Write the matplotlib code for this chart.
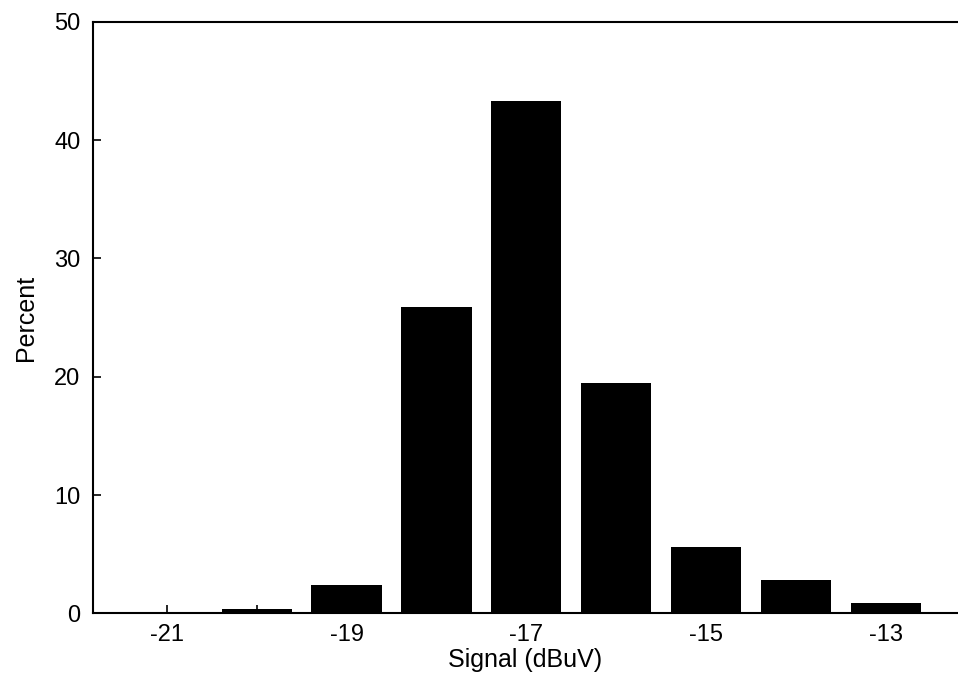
import matplotlib
matplotlib.use("Agg")
import matplotlib.pyplot as plt

# значения гистограммы
signal = [-21, -20, -19, -18, -17, -16, -15, -14, -13]
percent = [0.1, 0.4, 2.4, 25.9, 43.3, 19.5, 5.6, 2.8, 0.85]
xtick_vals = [-21, -19, -17, -15, -13]
ytick_vals = [0, 10, 20, 30, 40, 50]

plt.rcParams['font.family'] = ['Liberation Sans', 'DejaVu Sans']
plt.rcParams['font.size'] = 17
plt.rcParams['axes.unicode_minus'] = False

fig = plt.figure(figsize=(9.58, 6.86), dpi=100)
ax = fig.add_axes([0.097, 0.106, 0.903, 0.862])

ax.bar(signal, percent, width=0.78, color='black')

ax.set_xlim(-21.82, -12.2)
ax.set_ylim(0, 50)
ax.set_xticks(signal, minor=True)
ax.set_xticks(xtick_vals)
ax.set_yticks(ytick_vals)
ax.tick_params(direction='in', length=6, width=1.2, which='both')
ax.tick_params(axis='x', pad=8)
ax.tick_params(axis='y', pad=9)

ax.spines['right'].set_visible(False)
for s in ['left', 'top', 'bottom']:
    ax.spines[s].set_linewidth(1.5)

ax.set_xlabel('Signal (dBuV)', fontsize=18, labelpad=1)
ax.set_ylabel('Percent', fontsize=18, labelpad=12)

fig.savefig('out.png', dpi=100)
